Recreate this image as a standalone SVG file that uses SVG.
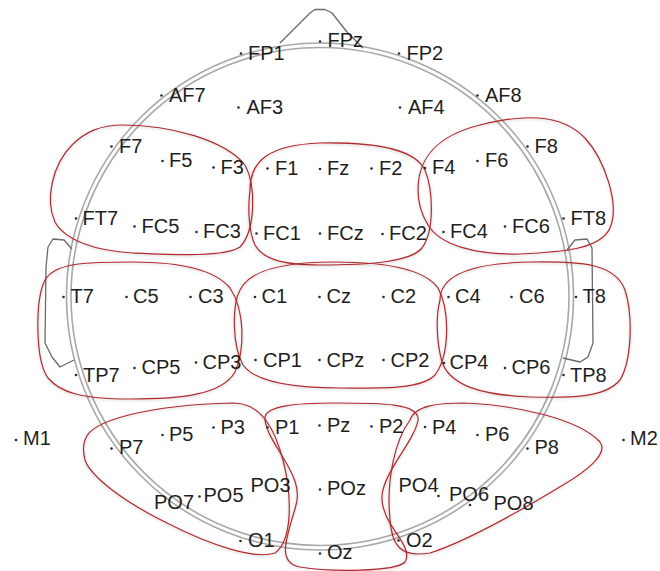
<svg xmlns="http://www.w3.org/2000/svg" width="660" height="571" viewBox="0 0 660 571">
<style>
.t{font-family:"Liberation Sans",Arial,sans-serif;font-size:20px;fill:#1e1e1e}
.d{fill:#2a2a2a}
.head{fill:none;stroke:#a8a8a8;stroke-width:1.6}
.ear{fill:none;stroke:#6a6a6a;stroke-width:1.3;stroke-linejoin:round}
.reg{fill:none;stroke:#b02a2e;stroke-width:1.2;filter:url(#sh)}
</style>
<defs>
<filter id="sh" x="-10%" y="-10%" width="120%" height="120%">
<feDropShadow dx="0" dy="1" stdDeviation="1.6" flood-color="#000" flood-opacity="0.22"/>
</filter>
</defs>
<rect width="660" height="571" fill="#fff"/>
<g id="head">
<circle class="head" cx="320" cy="296.5" r="249"/>
<circle class="head" cx="320" cy="296.5" r="253.5"/>
<path class="ear" d="M280,43 L310,13 L315,9.5 L325,9.5 L332,13 L347,32 L363,48"/>
<path class="ear" d="M72,249 L64,240 L53,239 L48,247 L46,267 L45,343 L52,357 L60,367 L74,360"/>
<path class="ear" d="M567,250 L575,240 L587,239 L592,248 L593,343 L588,357 L580,362 L563,358"/>
</g>
<g id="regions">
<path id="r-lf" class="reg" d="M123,125 C170,125 225,140 245,165 C256,185 256,230 240,247 C225,257 180,255 133,253 C95,251 65,240 55,222 C45,200 52,165 72,145 C85,132 100,125 123,125 Z"/>
<path id="r-cf" class="reg" d="M250,190 C250,160 270,145 320,143 C380,142 415,150 425,170 C433,190 435,230 422,248 C410,262 370,265 320,265 C280,265 262,258 255,245 C248,230 248,205 250,190 Z"/>
<path id="r-rf" class="reg" d="M418,190 C418,155 440,135 480,125 C520,115 560,112 585,138 C605,160 620,205 610,228 C600,250 560,252 520,254 C475,255 440,245 428,225 C420,212 418,200 418,190 Z"/>
<path id="r-lc" class="reg" d="M45,280 C55,262 90,262 133,262 C180,262 215,270 230,288 C245,310 245,350 235,372 C222,395 180,399 130,399 C80,399 60,392 48,378 C35,360 35,300 45,280 Z"/>
<path id="r-cc" class="reg" d="M240,290 C250,268 290,262 335,262 C390,262 425,270 438,288 C450,310 450,355 435,375 C420,390 380,388 340,388 C290,388 255,382 243,365 C232,345 232,305 240,290 Z"/>
<path id="r-rc" class="reg" d="M440,300 C440,272 480,263 530,262 C580,261 615,263 625,290 C633,315 632,360 620,380 C605,398 570,398 530,397 C480,395 450,385 442,362 C436,340 436,315 440,300 Z"/>
<path id="r-lp" class="reg" d="M85,440 C90,420 150,405 233,403 C262,403 275,430 283,460 C292,495 293,540 275,553 C255,560 210,545 167,523 C120,500 90,475 85,460 C83,452 83,445 85,440 Z"/>
<path id="r-cp" class="reg" d="M265,420 C262,405 300,403 335,403 C380,403 420,403 418,420 C415,440 385,470 382,495 C380,525 415,545 405,562 C395,572 330,572 300,567 C275,562 288,535 296,505 C305,475 268,445 265,420 Z"/>
<path id="r-rp" class="reg" d="M410,420 C415,405 440,403 463,403 C520,405 580,420 600,442 C610,455 580,475 563,485 C530,505 470,540 430,553 C400,558 392,545 390,520 C386,480 395,440 410,420 Z"/>
</g>
<g id="electrodes">
<g id="FP1"><circle class="d" cx="241" cy="53.5" r="1.3"/><text class="t" x="248" y="60">FP1</text></g>
<g id="FPz"><circle class="d" cx="320" cy="41.5" r="1.3"/><text class="t" x="327.5" y="47">FPz</text></g>
<g id="FP2"><circle class="d" cx="399" cy="53.5" r="1.3"/><text class="t" x="406.5" y="60">FP2</text></g>
<g id="AF7"><circle class="d" cx="161.5" cy="95.5" r="1.3"/><text class="t" x="169" y="101.5">AF7</text></g>
<g id="AF3"><circle class="d" cx="238.5" cy="107.5" r="1.3"/><text class="t" x="246.5" y="114">AF3</text></g>
<g id="AF4"><circle class="d" cx="400" cy="107.5" r="1.3"/><text class="t" x="408" y="114">AF4</text></g>
<g id="AF8"><circle class="d" cx="477.5" cy="95.5" r="1.3"/><text class="t" x="485" y="101.5">AF8</text></g>
<g id="F7"><circle class="d" cx="111.5" cy="146.5" r="1.3"/><text class="t" x="119" y="153">F7</text></g>
<g id="F5"><circle class="d" cx="162.5" cy="161" r="1.3"/><text class="t" x="169" y="167">F5</text></g>
<g id="F3"><circle class="d" cx="213.5" cy="167.5" r="1.3"/><text class="t" x="220.5" y="174">F3</text></g>
<g id="F1"><circle class="d" cx="267.5" cy="168.5" r="1.3"/><text class="t" x="275" y="175">F1</text></g>
<g id="Fz"><circle class="d" cx="320" cy="169" r="1.3"/><text class="t" x="327" y="175">Fz</text></g>
<g id="F2"><circle class="d" cx="371.5" cy="168.5" r="1.3"/><text class="t" x="379" y="174.5">F2</text></g>
<g id="F4"><circle class="d" cx="425" cy="168" r="1.3"/><text class="t" x="432" y="174">F4</text></g>
<g id="F6"><circle class="d" cx="477.5" cy="161" r="1.3"/><text class="t" x="485" y="167">F6</text></g>
<g id="F8"><circle class="d" cx="527.5" cy="146.5" r="1.3"/><text class="t" x="534.5" y="153">F8</text></g>
<g id="FT7"><circle class="d" cx="76" cy="218.5" r="1.3"/><text class="t" x="82.5" y="225">FT7</text></g>
<g id="FC5"><circle class="d" cx="134.5" cy="226.5" r="1.3"/><text class="t" x="141.5" y="233">FC5</text></g>
<g id="FC3"><circle class="d" cx="196.5" cy="232" r="1.3"/><text class="t" x="203" y="238">FC3</text></g>
<g id="FC1"><circle class="d" cx="256.5" cy="233.5" r="1.3"/><text class="t" x="263" y="240">FC1</text></g>
<g id="FCz"><circle class="d" cx="320" cy="233.5" r="1.3"/><text class="t" x="327" y="240">FCz</text></g>
<g id="FC2"><circle class="d" cx="382.5" cy="234" r="1.3"/><text class="t" x="389" y="240">FC2</text></g>
<g id="FC4"><circle class="d" cx="443.5" cy="232" r="1.3"/><text class="t" x="450" y="238">FC4</text></g>
<g id="FC6"><circle class="d" cx="505" cy="226.5" r="1.3"/><text class="t" x="512" y="233">FC6</text></g>
<g id="FT8"><circle class="d" cx="563.5" cy="218.5" r="1.3"/><text class="t" x="570.5" y="225">FT8</text></g>
<g id="T7"><circle class="d" cx="63.5" cy="297" r="1.3"/><text class="t" x="70.5" y="303">T7</text></g>
<g id="C5"><circle class="d" cx="126.5" cy="297" r="1.3"/><text class="t" x="133" y="303">C5</text></g>
<g id="C3"><circle class="d" cx="190.5" cy="297" r="1.3"/><text class="t" x="198" y="303">C3</text></g>
<g id="C1"><circle class="d" cx="255" cy="297" r="1.3"/><text class="t" x="261.5" y="303">C1</text></g>
<g id="Cz"><circle class="d" cx="319.5" cy="297" r="1.3"/><text class="t" x="326.5" y="303">Cz</text></g>
<g id="C2"><circle class="d" cx="383.5" cy="297" r="1.3"/><text class="t" x="390.5" y="303">C2</text></g>
<g id="C4"><circle class="d" cx="448.5" cy="297" r="1.3"/><text class="t" x="455" y="303">C4</text></g>
<g id="C6"><circle class="d" cx="511.5" cy="297" r="1.3"/><text class="t" x="519" y="303">C6</text></g>
<g id="T8"><circle class="d" cx="576" cy="297" r="1.3"/><text class="t" x="582.5" y="303">T8</text></g>
<g id="TP7"><circle class="d" cx="76" cy="375" r="1.3"/><text class="t" x="83" y="381.5">TP7</text></g>
<g id="CP5"><circle class="d" cx="134.5" cy="368" r="1.3"/><text class="t" x="141.5" y="374">CP5</text></g>
<g id="CP3"><circle class="d" cx="196" cy="362.5" r="1.3"/><text class="t" x="202.5" y="368.5">CP3</text></g>
<g id="CP1"><circle class="d" cx="255.5" cy="360" r="1.3"/><text class="t" x="263" y="366.5">CP1</text></g>
<g id="CPz"><circle class="d" cx="319.5" cy="360" r="1.3"/><text class="t" x="326.5" y="366.5">CPz</text></g>
<g id="CP2"><circle class="d" cx="383.5" cy="360" r="1.3"/><text class="t" x="390.5" y="366.5">CP2</text></g>
<g id="CP4"><circle class="d" cx="444" cy="363" r="1.3"/><text class="t" x="449.5" y="368.5">CP4</text></g>
<g id="CP6"><circle class="d" cx="505" cy="368" r="1.3"/><text class="t" x="511.5" y="374">CP6</text></g>
<g id="TP8"><circle class="d" cx="563.5" cy="375" r="1.3"/><text class="t" x="570" y="381.5">TP8</text></g>
<g id="M1"><circle class="d" cx="16" cy="440" r="1.3"/><text class="t" x="23" y="445">M1</text></g>
<g id="P7"><circle class="d" cx="111.5" cy="448.5" r="1.3"/><text class="t" x="119" y="453.5">P7</text></g>
<g id="P5"><circle class="d" cx="162.5" cy="435" r="1.3"/><text class="t" x="169" y="441">P5</text></g>
<g id="P3"><circle class="d" cx="213.5" cy="427.5" r="1.3"/><text class="t" x="220.5" y="433.5">P3</text></g>
<g id="P1"><circle class="d" cx="267.5" cy="427.5" r="1.3"/><text class="t" x="275" y="433.5">P1</text></g>
<g id="Pz"><circle class="d" cx="319.5" cy="425.5" r="1.3"/><text class="t" x="327" y="432">Pz</text></g>
<g id="P2"><circle class="d" cx="371.5" cy="426.5" r="1.3"/><text class="t" x="379" y="432.5">P2</text></g>
<g id="P4"><circle class="d" cx="425" cy="427" r="1.3"/><text class="t" x="432" y="433.5">P4</text></g>
<g id="P6"><circle class="d" cx="477.5" cy="435" r="1.3"/><text class="t" x="485" y="441">P6</text></g>
<g id="P8"><circle class="d" cx="527.5" cy="448.5" r="1.3"/><text class="t" x="534.5" y="453.5">P8</text></g>
<g id="M2"><circle class="d" cx="623.5" cy="440" r="1.3"/><text class="t" x="630" y="444.5">M2</text></g>
<g id="PO7"><text class="t" x="154" y="508.5">PO7</text><circle class="d" cx="199.5" cy="496.5" r="1.3"/></g>
<g id="PO5"><text class="t" x="203.5" y="501.5">PO5</text></g>
<g id="PO3"><text class="t" x="250.5" y="491.5">PO3</text></g>
<g id="POz"><circle class="d" cx="320" cy="489.5" r="1.3"/><text class="t" x="327" y="495">POz</text></g>
<g id="PO4"><text class="t" x="398.5" y="491.5">PO4</text><circle class="d" cx="438.5" cy="496" r="1.3"/></g>
<g id="PO6"><text class="t" x="449" y="501">PO6</text><circle class="d" cx="470" cy="505" r="1.3"/></g>
<g id="PO8"><text class="t" x="493.5" y="510">PO8</text></g>
<g id="O1"><circle class="d" cx="240.5" cy="541" r="1.3"/><text class="t" x="248" y="546.5">O1</text></g>
<g id="Oz"><circle class="d" cx="320" cy="553.5" r="1.3"/><text class="t" x="327" y="558.5">Oz</text></g>
<g id="O2"><circle class="d" cx="398.5" cy="540.5" r="1.3"/><text class="t" x="406" y="546.5">O2</text></g>
</g>
</svg>
